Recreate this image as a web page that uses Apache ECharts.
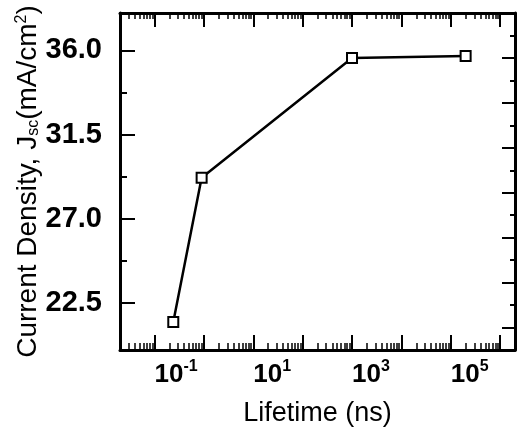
<!DOCTYPE html>
<html>
<head>
<meta charset="utf-8">
<script src="https://cdn.jsdelivr.net/npm/echarts@6/dist/echarts.min.js"></script>
<style>
  html, body { margin: 0; padding: 0; background: #fff; }
  #jsc-lifetime { width: 517px; height: 432px; }
</style>
</head>
<body>
<div id="jsc-lifetime"></div>
<script>
// lifetime (ns) vs short-circuit current density (mA/cm2)
const lifetimes = [0.24, 0.9, 1000, 200000];
const jscValues = [21.5, 29.2, 35.6, 35.7];

// tick labels / tick positions
const xMajorTicks = [0.1, 1, 10, 100, 1000, 10000, 100000, 1000000];
const xLabelTicks = [0.1, 10, 1000, 100000];
const yLabelTicks = [22.5, 27.0, 31.5, 36.0];
const yMinorTicks = [24.75, 29.25, 33.75];
const rightMajorTicks = [1, 3, 5, 7, 9, 11, 13];
const rightMinorTicks = [2, 4, 6, 8, 10, 12, 14];

// log minor ticks 2..9 in each decade
const xMinorTicks = [];
for (let e = -2; e <= 6; e++) {
  for (let k = 2; k <= 9; k++) {
    xMinorTicks.push(k * Math.pow(10, e));
  }
}

const font = "'Liberation Sans', Arial, sans-serif";
const chart = echarts.init(document.getElementById("jsc-lifetime"));

function xAxisOf(position, ticks, len, isMain) {
  return {
    type: "log",
    logBase: 10,
    position: position,
    min: 0.02,
    max: 2000000,
    name: isMain && position === "bottom" ? "Lifetime (ns)" : "",
    nameLocation: "middle",
    nameGap: 50,
    nameMoveOverlap: false,
    nameTextStyle: { fontFamily: font, fontSize: 27, color: "#000" },
    axisLine: { show: isMain, onZero: false, lineStyle: { color: "#000", width: 3 } },
    axisTick: {
      show: true,
      inside: true,
      length: len,
      customValues: ticks,
      lineStyle: { color: "#000", width: isMain ? 2 : 1.5 },
    },
    axisLabel: {
      show: isMain && position === "bottom",
      customValues: xLabelTicks,
      align: "left",
      margin: 9,
      formatter: function (v) {
        return "{b|10}{s|" + Math.round(Math.log10(v)) + "}";
      },
      rich: {
        b: { fontFamily: font, fontSize: 26, fontWeight: "bold", color: "#000", lineHeight: 32 },
        s: { fontFamily: font, fontSize: 16, fontWeight: "bold", color: "#000", lineHeight: 16, verticalAlign: "top" },
      },
    },
    splitLine: { show: false },
    minorTick: { show: false },
  };
}

function yAxisOf(position, min, max, ticks, len, isMain, withLabels) {
  return {
    type: "value",
    position: position,
    min: min,
    max: max,
    name: withLabels ? "{n|Current Density, J}{sub|sc}{n|(mA/cm}{sup|2}{n|)}" : "",
    nameLocation: "middle",
    nameGap: 78,
    nameMoveOverlap: false,
    nameTextStyle: {
      rich: {
        n: { fontFamily: font, fontSize: 28, color: "#000" },
        sub: { fontFamily: font, fontSize: 16, color: "#000", verticalAlign: "bottom" },
        sup: { fontFamily: font, fontSize: 16, color: "#000", verticalAlign: "top" },
      },
    },
    axisLine: { show: isMain, onZero: false, lineStyle: { color: "#000", width: 3 } },
    axisTick: {
      show: true,
      inside: true,
      length: len,
      customValues: ticks,
      lineStyle: { color: "#000", width: 2 },
    },
    axisLabel: {
      show: withLabels,
      customValues: ticks,
      margin: 18,
      fontFamily: font,
      fontSize: 29,
      fontWeight: "bold",
      color: "#000",
      formatter: function (v) {
        return v.toFixed(1);
      },
    },
    splitLine: { show: false },
  };
}

const option = {
  animation: false,
  backgroundColor: "#fff",
  grid: { left: 120, right: 2, top: 13, bottom: 82 },
  xAxis: [
    xAxisOf("bottom", xMajorTicks, 15, true),
    xAxisOf("bottom", xMinorTicks, 7, false),
    xAxisOf("top", xMajorTicks, 14, true),
    xAxisOf("top", xMinorTicks, 6, false),
  ],
  yAxis: [
    yAxisOf("left", 20, 38, yLabelTicks, 15, true, true),
    yAxisOf("left", 20, 38, yMinorTicks, 7, false, false),
    yAxisOf("right", 0, 15, rightMajorTicks, 13, true, false),
    yAxisOf("right", 0, 15, rightMinorTicks, 5, false, false),
  ],
  series: [
    {
      type: "line",
      xAxisIndex: 0,
      yAxisIndex: 0,
      data: lifetimes.map(function (t, i) {
        return [t, jscValues[i]];
      }),
      symbol: "rect",
      symbolSize: 10,
      lineStyle: { color: "#000", width: 2.5 },
      itemStyle: { color: "#fff", borderColor: "#000", borderWidth: 2 },
      z: 5,
    },
  ],
};
chart.setOption(option);
</script>
</body>
</html>
